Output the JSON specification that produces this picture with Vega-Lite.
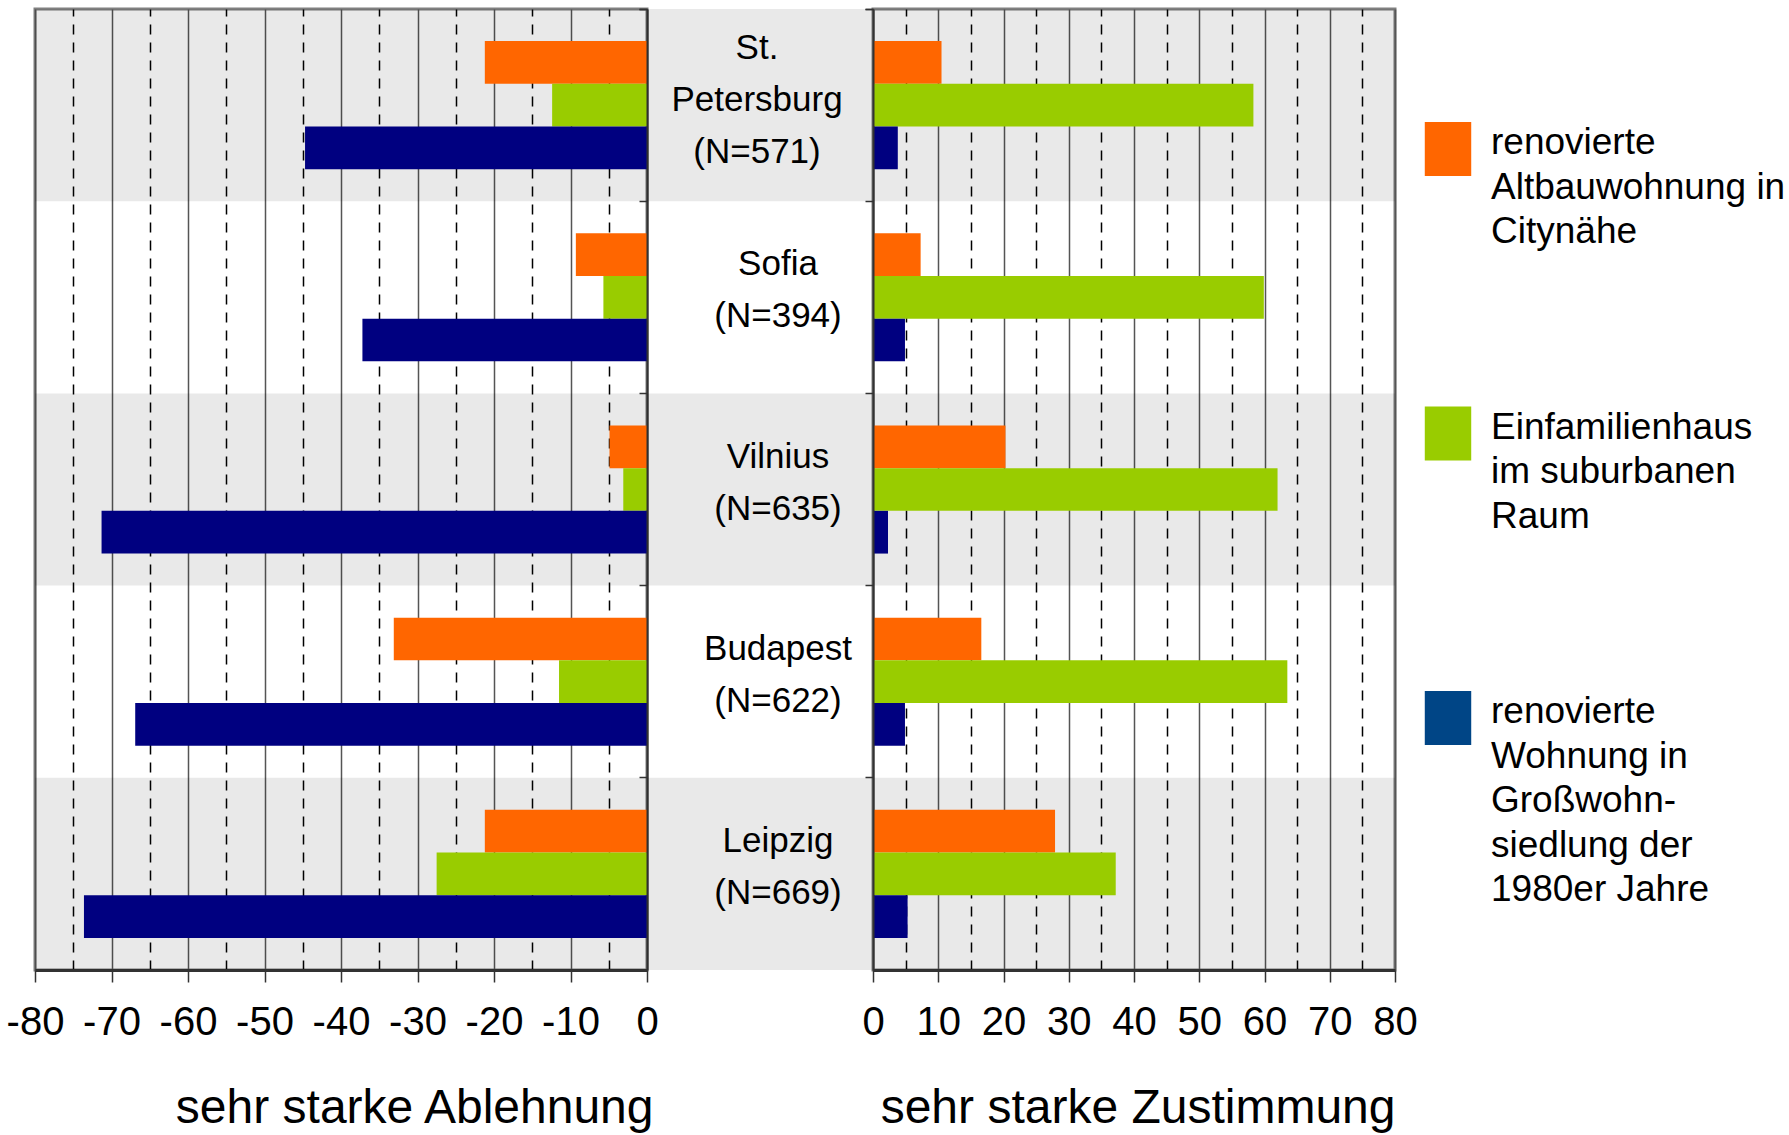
{
  "$schema": "https://vega.github.io/schema/vega-lite/v6.json",
  "background": "white",
  "padding": {"left": 4, "top": 6, "right": 0, "bottom": 0},
  "bounds": "flush",
  "spacing": 0,
  "datasets": {
    "werte": [
      {"stadt": "St. Petersburg", "wohnform": "renovierte Altbauwohnung in Citynähe", "ablehnung": -21.2, "zustimmung": 10.5},
      {"stadt": "St. Petersburg", "wohnform": "Einfamilienhaus im suburbanen Raum", "ablehnung": -12.4, "zustimmung": 58.3},
      {"stadt": "St. Petersburg", "wohnform": "renovierte Wohnung in Großwohnsiedlung der 1980er Jahre", "ablehnung": -44.7, "zustimmung": 3.8},
      {"stadt": "Sofia", "wohnform": "renovierte Altbauwohnung in Citynähe", "ablehnung": -9.3, "zustimmung": 7.3},
      {"stadt": "Sofia", "wohnform": "Einfamilienhaus im suburbanen Raum", "ablehnung": -5.7, "zustimmung": 59.9},
      {"stadt": "Sofia", "wohnform": "renovierte Wohnung in Großwohnsiedlung der 1980er Jahre", "ablehnung": -37.2, "zustimmung": 4.9},
      {"stadt": "Vilnius", "wohnform": "renovierte Altbauwohnung in Citynähe", "ablehnung": -4.9, "zustimmung": 20.3},
      {"stadt": "Vilnius", "wohnform": "Einfamilienhaus im suburbanen Raum", "ablehnung": -3.1, "zustimmung": 62.0},
      {"stadt": "Vilnius", "wohnform": "renovierte Wohnung in Großwohnsiedlung der 1980er Jahre", "ablehnung": -71.3, "zustimmung": 2.3},
      {"stadt": "Budapest", "wohnform": "renovierte Altbauwohnung in Citynähe", "ablehnung": -33.1, "zustimmung": 16.6},
      {"stadt": "Budapest", "wohnform": "Einfamilienhaus im suburbanen Raum", "ablehnung": -11.5, "zustimmung": 63.5},
      {"stadt": "Budapest", "wohnform": "renovierte Wohnung in Großwohnsiedlung der 1980er Jahre", "ablehnung": -66.9, "zustimmung": 4.9},
      {"stadt": "Leipzig", "wohnform": "renovierte Altbauwohnung in Citynähe", "ablehnung": -21.2, "zustimmung": 27.9},
      {"stadt": "Leipzig", "wohnform": "Einfamilienhaus im suburbanen Raum", "ablehnung": -27.5, "zustimmung": 37.2},
      {"stadt": "Leipzig", "wohnform": "renovierte Wohnung in Großwohnsiedlung der 1980er Jahre", "ablehnung": -73.6, "zustimmung": 5.3}
    ],
    "staedte": [
      {"stadt": "St. Petersburg", "label": "St.\nPetersburg\n(N=571)"},
      {"stadt": "Sofia", "label": "Sofia\n(N=394)"},
      {"stadt": "Vilnius", "label": "Vilnius\n(N=635)"},
      {"stadt": "Budapest", "label": "Budapest\n(N=622)"},
      {"stadt": "Leipzig", "label": "Leipzig\n(N=669)"}
    ],
    "wohnformen": [
      {"wohnform": "renovierte Altbauwohnung in Citynähe", "label": "renovierte\nAltbauwohnung in\nCitynähe"},
      {"wohnform": "Einfamilienhaus im suburbanen Raum", "label": "Einfamilienhaus\nim suburbanen\nRaum"},
      {"wohnform": "renovierte Wohnung in Großwohnsiedlung der 1980er Jahre", "label": "renovierte\nWohnung in\nGroßwohn-\nsiedlung der\n1980er Jahre"}
    ]
  },
  "config": {
    "font": "Liberation Sans",
    "view": {"stroke": "#808080", "strokeWidth": 3},
    "axis": {
      "labelFont": "Liberation Sans",
      "labelFontSize": 40,
      "labelColor": "black",
      "titleFont": "Liberation Sans",
      "titleFontSize": 48,
      "titleFontWeight": "normal",
      "titleColor": "black",
      "domainColor": "#333333",
      "domainWidth": 3,
      "tickColor": "#333333",
      "tickWidth": 1.5,
      "tickSize": 12,
      "labelPadding": 20,
      "titlePadding": 42,
      "labelOverlap": false,
      "labelFlush": false
    }
  },
  "resolve": {"scale": {"x": "independent", "y": "independent", "color": "independent"}},
  "hconcat": [
    {
      "width": 612,
      "height": 961,
      "encoding": {
        "y": {
          "field": "stadt", "type": "nominal", "sort": null,
          "scale": {"domain": ["St. Petersburg", "Sofia", "Vilnius", "Budapest", "Leipzig"], "paddingInner": 0, "paddingOuter": 0},
          "axis": {"orient": "right", "labels": false, "title": null, "ticks": true, "tickSize": -8, "bandPosition": 0, "tickExtra": true, "domain": true, "domainWidth": 2, "grid": false}
        }
      },
      "layer": [
        {
          "data": {"name": "staedte"},
          "mark": {"type": "rect", "fill": "black"},
          "encoding": {
            "fillOpacity": {"condition": {"test": "indexof(['St. Petersburg','Vilnius','Leipzig'], datum.stadt) >= 0", "value": 0.085}, "value": 0}
          }
        },
        {
          "data": {"name": "werte"},
          "mark": {"type": "bar"},
          "encoding": {
            "yOffset": {"field": "wohnform", "type": "nominal", "sort": null, "scale": {"domain": ["renovierte Altbauwohnung in Citynähe", "Einfamilienhaus im suburbanen Raum", "renovierte Wohnung in Großwohnsiedlung der 1980er Jahre"], "paddingInner": 0, "paddingOuter": 0.75}},
            "x": {
              "field": "ablehnung", "type": "quantitative",
              "scale": {"domain": [-80, 0], "nice": false},
              "axis": {
                "values": [-80, -75, -70, -65, -60, -55, -50, -45, -40, -35, -30, -25, -20, -15, -10, -5, 0],
                "labelExpr": "datum.value % 10 === 0 ? toString(datum.value) : ''",
                "grid": true,
                "gridColor": {"condition": {"test": "datum.value % 10 !== 0", "value": "black"}, "value": "#555555"},
                "gridDash": {"condition": {"test": "datum.value % 10 !== 0", "value": [10, 8]}, "value": []},
                "gridWidth": 1.5,
                "tickOpacity": {"condition": {"test": "datum.value % 10 !== 0", "value": 0}, "value": 1},
                "title": "sehr starke Ablehnung",
                "titleAnchor": "end",
                "titleX": 618,
                "titleAlign": "right"
              }
            },
            "color": {
              "field": "wohnform", "type": "nominal",
              "scale": {"domain": ["renovierte Altbauwohnung in Citynähe", "Einfamilienhaus im suburbanen Raum", "renovierte Wohnung in Großwohnsiedlung der 1980er Jahre"], "range": ["#FF6600", "#99CC00", "#000080"]},
              "legend": null
            }
          }
        }
      ]
    },
    {
      "width": 226,
      "height": 961,
      "view": {"stroke": null},
      "data": {"name": "staedte"},
      "encoding": {
        "y": {
          "field": "stadt", "type": "nominal", "sort": null,
          "scale": {"domain": ["St. Petersburg", "Sofia", "Vilnius", "Budapest", "Leipzig"], "paddingInner": 0, "paddingOuter": 0},
          "axis": null
        }
      },
      "layer": [
        {
          "mark": {"type": "rect", "fill": "black"},
          "encoding": {
            "fillOpacity": {"condition": {"test": "indexof(['St. Petersburg','Vilnius','Leipzig'], datum.stadt) >= 0", "value": 0.085}, "value": 0}
          }
        },
        {
          "transform": [{"filter": "datum.stadt === 'St. Petersburg'"}],
          "mark": {"type": "text", "fontSize": 35, "lineHeight": 52, "lineBreak": "\n", "align": "center", "baseline": "middle", "dx": -3, "dy": -57, "color": "black"},
          "encoding": {"text": {"field": "label", "type": "nominal"}}
        },
        {
          "transform": [{"filter": "datum.stadt !== 'St. Petersburg'"}],
          "mark": {"type": "text", "fontSize": 35, "lineHeight": 52, "lineBreak": "\n", "align": "center", "baseline": "middle", "dx": 18, "dy": -33, "color": "black"},
          "encoding": {"text": {"field": "label", "type": "nominal"}}
        }
      ]
    },
    {
      "width": 522,
      "height": 961,
      "encoding": {
        "y": {
          "field": "stadt", "type": "nominal", "sort": null,
          "scale": {"domain": ["St. Petersburg", "Sofia", "Vilnius", "Budapest", "Leipzig"], "paddingInner": 0, "paddingOuter": 0},
          "axis": {"orient": "left", "labels": false, "title": null, "ticks": true, "tickSize": 8, "bandPosition": 0, "tickExtra": true, "domain": true, "domainWidth": 2, "grid": false}
        }
      },
      "layer": [
        {
          "data": {"name": "staedte"},
          "mark": {"type": "rect", "fill": "black"},
          "encoding": {
            "fillOpacity": {"condition": {"test": "indexof(['St. Petersburg','Vilnius','Leipzig'], datum.stadt) >= 0", "value": 0.085}, "value": 0}
          }
        },
        {
          "data": {"name": "werte"},
          "mark": {"type": "bar"},
          "encoding": {
            "yOffset": {"field": "wohnform", "type": "nominal", "sort": null, "scale": {"domain": ["renovierte Altbauwohnung in Citynähe", "Einfamilienhaus im suburbanen Raum", "renovierte Wohnung in Großwohnsiedlung der 1980er Jahre"], "paddingInner": 0, "paddingOuter": 0.75}},
            "x": {
              "field": "zustimmung", "type": "quantitative",
              "scale": {"domain": [0, 80], "nice": false},
              "axis": {
                "values": [0, 5, 10, 15, 20, 25, 30, 35, 40, 45, 50, 55, 60, 65, 70, 75, 80],
                "labelExpr": "datum.value % 10 === 0 ? toString(datum.value) : ''",
                "grid": true,
                "gridColor": {"condition": {"test": "datum.value % 10 !== 0", "value": "black"}, "value": "#555555"},
                "gridDash": {"condition": {"test": "datum.value % 10 !== 0", "value": [10, 8]}, "value": []},
                "gridWidth": 1.5,
                "tickOpacity": {"condition": {"test": "datum.value % 10 !== 0", "value": 0}, "value": 1},
                "title": "sehr starke Zustimmung",
                "titleAnchor": "end"
              }
            },
            "color": {
              "field": "wohnform", "type": "nominal",
              "scale": {"domain": ["renovierte Altbauwohnung in Citynähe", "Einfamilienhaus im suburbanen Raum", "renovierte Wohnung in Großwohnsiedlung der 1980er Jahre"], "range": ["#FF6600", "#99CC00", "#000080"]},
              "legend": null
            }
          }
        }
      ]
    },
    {
      "width": 106,
      "height": 961,
      "view": {"stroke": null},
      "data": {"name": "wohnformen"},
      "encoding": {
        "y": {
          "field": "wohnform", "type": "nominal", "sort": null,
          "scale": {"type": "point", "padding": 0, "domain": ["renovierte Altbauwohnung in Citynähe", "Einfamilienhaus im suburbanen Raum", "renovierte Wohnung in Großwohnsiedlung der 1980er Jahre"], "range": [140, 709]},
          "axis": null
        }
      },
      "layer": [
        {
          "mark": {"type": "point", "shape": "M-0.86,-1L0.86,-1L0.86,1L-0.86,1Z", "size": 2916, "filled": true, "opacity": 1, "strokeWidth": 0},
          "encoding": {
            "color": {
              "field": "wohnform", "type": "nominal",
              "scale": {"domain": ["renovierte Altbauwohnung in Citynähe", "Einfamilienhaus im suburbanen Raum", "renovierte Wohnung in Großwohnsiedlung der 1980er Jahre"], "range": ["#FF6600", "#99CC00", "#004586"]},
              "legend": null
            }
          }
        },
        {
          "mark": {"type": "text", "align": "left", "baseline": "alphabetic", "dx": 43, "dy": 5, "fontSize": 37, "lineHeight": 44.5, "lineBreak": "\n", "color": "black"},
          "encoding": {"text": {"field": "label", "type": "nominal"}}
        }
      ]
    }
  ]
}
